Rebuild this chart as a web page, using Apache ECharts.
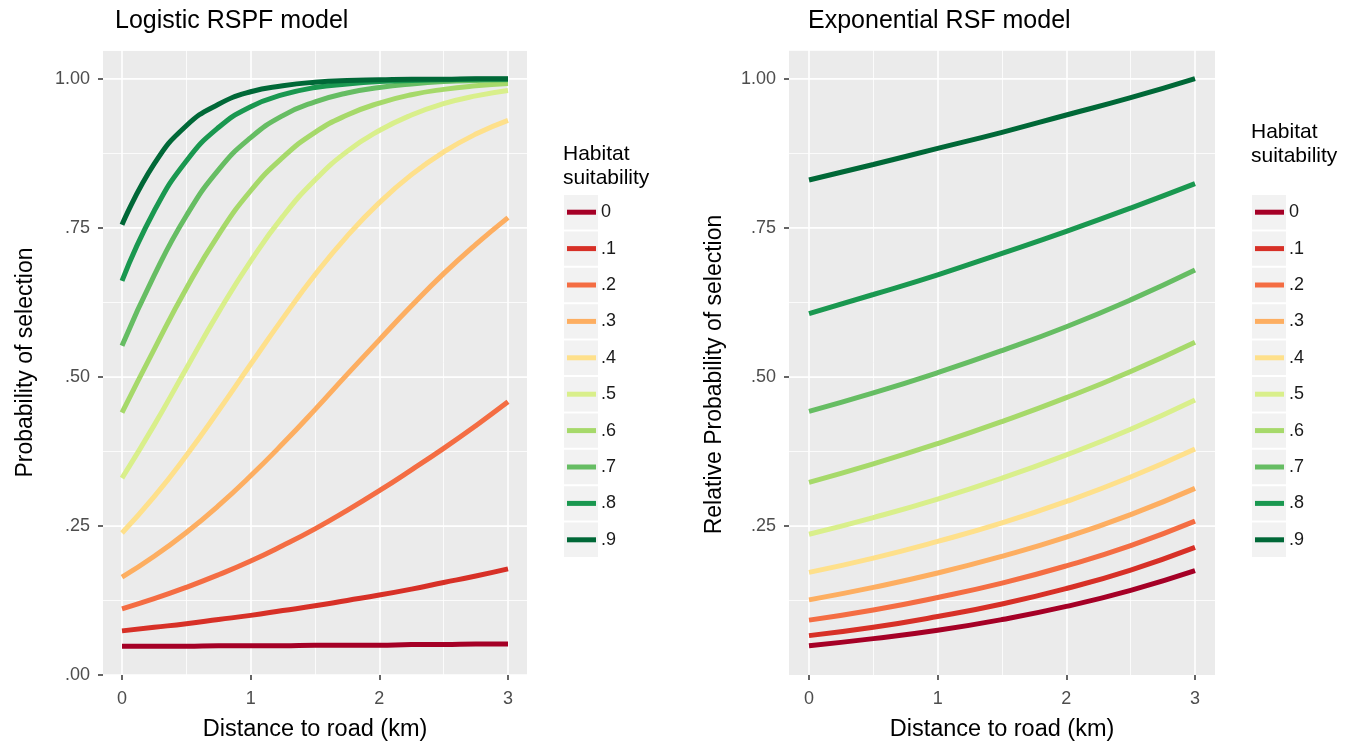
<!DOCTYPE html>
<html>
<head>
<meta charset="utf-8">
<script src="https://cdn.jsdelivr.net/npm/echarts@6/dist/echarts.min.js"></script>
<style>
  html, body { margin: 0; padding: 0; background: #fff; }
  #chart { width: 1360px; height: 742px; }
</style>
</head>
<body>
<div id="chart"></div>
<script>
// habitat suitability classes (legend entries)
const habitat = ['0', '.1', '.2', '.3', '.4', '.5', '.6', '.7', '.8', '.9'];
// RdYlGn, 10 classes
const palette = ['#a50026', '#d73027', '#f46d43', '#fdae61', '#fee08b',
                 '#d9ef8b', '#a6d96a', '#66bd63', '#1a9850', '#006837'];

// Logistic RSPF model: distance (km) and probability per habitat class
const distRspf = [0, 0.25, 0.5, 0.75, 1, 1.25, 1.5, 1.75, 2, 2.25, 2.5, 2.75, 3];
const rspfValues = [
    [0.048, 0.048, 0.048, 0.049, 0.049, 0.049, 0.050, 0.050, 0.050, 0.051, 0.051, 0.052, 0.052],
    [0.074, 0.080, 0.086, 0.093, 0.100, 0.108, 0.116, 0.125, 0.134, 0.144, 0.155, 0.166, 0.178],
    [0.111, 0.128, 0.147, 0.168, 0.191, 0.217, 0.245, 0.276, 0.309, 0.344, 0.380, 0.418, 0.458],
    [0.164, 0.199, 0.239, 0.284, 0.334, 0.388, 0.445, 0.504, 0.562, 0.619, 0.673, 0.722, 0.767],
    [0.238, 0.299, 0.368, 0.443, 0.521, 0.598, 0.671, 0.736, 0.792, 0.839, 0.877, 0.907, 0.930],
    [0.330, 0.419, 0.514, 0.608, 0.694, 0.769, 0.830, 0.878, 0.913, 0.939, 0.958, 0.971, 0.980],
    [0.440, 0.546, 0.648, 0.738, 0.812, 0.868, 0.910, 0.939, 0.959, 0.973, 0.982, 0.988, 0.992],
    [0.552, 0.670, 0.770, 0.847, 0.901, 0.938, 0.961, 0.976, 0.985, 0.991, 0.995, 0.997, 0.998],
    [0.661, 0.778, 0.862, 0.918, 0.953, 0.973, 0.985, 0.991, 0.995, 0.997, 0.998, 0.999, 0.999],
    [0.755, 0.857, 0.921, 0.957, 0.978, 0.988, 0.994, 0.997, 0.998, 0.999, 0.999, 1.000, 1.000]
];

// Exponential RSF model: distance (km) and relative probability
const distRsf = [0, 0.5, 1, 1.5, 2, 2.5, 3];
const rsfValues = [
    [0.049, 0.061, 0.075, 0.093, 0.115, 0.142, 0.175],
    [0.066, 0.080, 0.098, 0.119, 0.145, 0.176, 0.214],
    [0.092, 0.109, 0.130, 0.154, 0.183, 0.217, 0.258],
    [0.126, 0.147, 0.171, 0.199, 0.231, 0.269, 0.313],
    [0.172, 0.196, 0.224, 0.255, 0.291, 0.332, 0.379],
    [0.236, 0.264, 0.295, 0.330, 0.369, 0.412, 0.461],
    [0.323, 0.354, 0.388, 0.425, 0.465, 0.509, 0.558],
    [0.442, 0.473, 0.507, 0.544, 0.584, 0.629, 0.679],
    [0.606, 0.638, 0.671, 0.707, 0.744, 0.783, 0.824],
    [0.830, 0.856, 0.883, 0.910, 0.939, 0.968, 1.000]
];

const yTicks = [0, 0.25, 0.5, 0.75, 1];
const yTicksRsf = [0.25, 0.5, 0.75, 1];

const FONT = '"Liberation Sans", Arial, sans-serif';
const Y_MAX = 1.048;

function yLabel(v) {
    if (Math.abs(v - 1) < 1e-9) return '1.00';
    if (yTicks.indexOf(v) < 0) return '';
    return '.' + String(Math.round(v * 100)).padStart(2, '0');
}

var chart = echarts.init(document.getElementById('chart'));

// bg grid: grey panel with horizontal lines; data grid: 0..3 km with vertical lines
function bgY(gridIndex, name, gap, customTicks, namePad) {
    const major = {
        type: 'value', gridIndex: gridIndex, min: 0, max: Y_MAX, interval: 0.25,
        axisLine: { show: false },
        axisTick: { show: true, length: 5, lineStyle: { color: '#333', width: 1.5 } },
        axisLabel: { fontSize: 18, color: '#4d4d4d', margin: 13, fontFamily: FONT,
                     formatter: yLabel },
        splitLine: { show: true, lineStyle: { color: '#fff', width: 1.6 } },
        name: name, nameLocation: 'middle', nameGap: gap,
        nameTextStyle: { fontSize: 23, color: '#000', fontFamily: FONT, padding: namePad || 0 }
    };
    if (customTicks) {
        major.axisTick.customValues = customTicks;
        major.axisLabel.customValues = customTicks;
    } else {
        major.axisLabel.showMaxLabel = false;
    }
    const minor = {
        type: 'value', gridIndex: gridIndex, min: 0, max: Y_MAX, interval: 0.125,
        axisLine: { show: false }, axisTick: { show: false }, axisLabel: { show: false },
        splitLine: { show: true, lineStyle: { color: '#fff', width: 0.8 } }
    };
    return [major, minor];
}

function dataX(gridIndex) {
    return {
        type: 'value', gridIndex: gridIndex, min: 0, max: 3, interval: 1,
        axisLine: { show: false, onZero: false },
        axisTick: { show: true, length: 5, lineStyle: { color: '#333', width: 1.5 } },
        axisLabel: { fontSize: 18, color: '#4d4d4d', margin: 15, fontFamily: FONT },
        splitLine: { show: true, lineStyle: { color: '#fff', width: 1.6 } },
        minorTick: { show: false, splitNumber: 2 },
        minorSplitLine: { show: true, lineStyle: { color: '#fff', width: 0.8 } },
        name: 'Distance to road (km)', nameLocation: 'middle', nameGap: 43,
        nameTextStyle: { fontSize: 23.5, color: '#000', fontFamily: FONT }
    };
}

const hiddenX = (g) => ({ type: 'value', gridIndex: g, min: 0, max: 1, show: false });
const hiddenY = (g) => ({ type: 'value', gridIndex: g, min: 0, max: Y_MAX, show: false });

function curve(name, xIdx, yIdx, xs, ys, color) {
    return {
        name: name, type: 'line', xAxisIndex: xIdx, yAxisIndex: yIdx,
        data: xs.map((d, k) => [d, ys[k]]),
        showSymbol: false, smooth: true,
        lineStyle: { color: color, width: 5 },
        itemStyle: { color: color }
    };
}

const series = [];
habitat.forEach(function (h, i) {
    series.push(curve(h, 1, 2, distRspf, rspfValues[i], palette[i]));
});
habitat.forEach(function (h, i) {
    series.push(curve(h, 3, 5, distRsf, rsfValues[i], palette[i]));
});

// grey legend key boxes
const keyBoxes = [];
[564, 1252].forEach(function (x) {
    habitat.forEach(function (h, i) {
        keyBoxes.push({
            type: 'rect', left: x, top: 194 + i * 36.4 + 1, z: 0,
            shape: { width: 34, height: 34.4 },
            style: { fill: '#f2f2f2' }
        });
    });
});

function legendAt(left) {
    return {
        data: habitat, orient: 'vertical', left: left, top: 194,
        icon: 'rect', itemWidth: 29, itemHeight: 5, itemGap: 0, padding: 0,
        selectedMode: false,
        textStyle: { fontSize: 18, color: '#1a1a1a', lineHeight: 36.4, fontFamily: FONT }
    };
}

const titleStyle = { fontSize: 25, fontWeight: 'normal', color: '#000', fontFamily: FONT };
const legendTitleStyle = { fontSize: 21, lineHeight: 24, fontWeight: 'normal', color: '#000', fontFamily: FONT };

function panel(left, width) {
    return { left: left, top: 50, width: width, height: 625, outerBoundsMode: 'none', containLabel: false };
}

const option = {
    animation: false,
    textStyle: { fontFamily: FONT },
    title: [
        { text: 'Logistic RSPF model', left: 115, top: 9, padding: 0, textStyle: titleStyle },
        { text: 'Exponential RSF model', left: 808, top: 9, padding: 0, textStyle: titleStyle },
        { text: 'Habitat\nsuitability', left: 563, top: 142, padding: 0, textStyle: legendTitleStyle },
        { text: 'Habitat\nsuitability', left: 1251, top: 120, padding: 0, textStyle: legendTitleStyle }
    ],
    legend: [legendAt(567), legendAt(1255)],
    graphic: keyBoxes,
    grid: [
        Object.assign(panel(103, 424), { show: true, backgroundColor: '#ebebeb', borderWidth: 0 }),
        panel(122, 386),
        Object.assign(panel(789, 426), { show: true, backgroundColor: '#ebebeb', borderWidth: 0 }),
        panel(809, 386)
    ],
    xAxis: [hiddenX(0), dataX(1), hiddenX(2), dataX(3)],
    yAxis: [].concat(
        bgY(0, 'Probability of selection', 66),
        [hiddenY(1)],
        bgY(2, 'Relative Probability of selection', 63, yTicksRsf, [0, 24, 0, 0]),
        [hiddenY(3)]
    ),
    series: series
};

chart.setOption(option);
</script>
</body>
</html>
